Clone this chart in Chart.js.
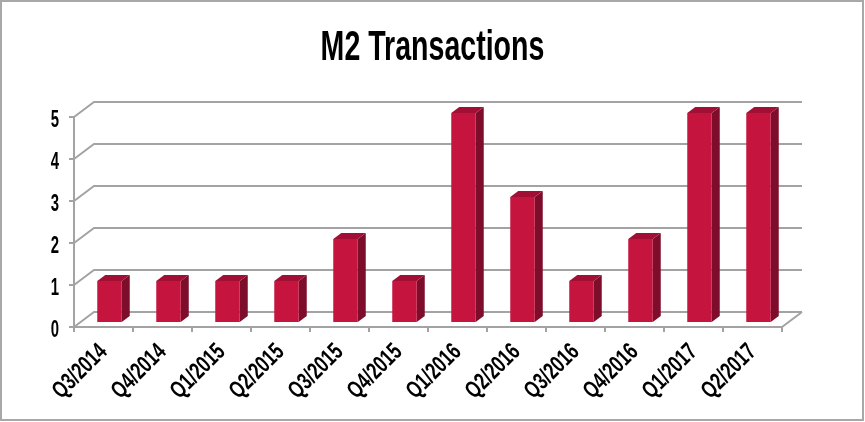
<!DOCTYPE html>
<html>
<head>
<meta charset="utf-8">
<style>
html,body{margin:0;padding:0;background:#fff}
canvas{display:block}
</style>
<script src="https://cdn.jsdelivr.net/npm/chart.js@4"></script>
</head>
<body>
<canvas id="c" width="865" height="422"></canvas>
<script>
const quarters = ['Q3/2014','Q4/2014','Q1/2015','Q2/2015','Q3/2015','Q4/2015','Q1/2016','Q2/2016','Q3/2016','Q4/2016','Q1/2017','Q2/2017'];
const transactions = [1,1,1,1,2,1,5,3,1,2,5,5];
const yTicks = [0,1,2,3,4,5];

const FONT = '"Liberation Sans",sans-serif';
const GRID = '#a3a3a3';
// depth of the fake 3d box
const WALL_X = 20, WALL_Y = 15;
const BAR_SHIFT_X = 6, BAR_SHIFT_Y = -4, BAR_DX = 8, BAR_DY = 6;

const canvas = document.getElementById('c');
const c2d = canvas.getContext('2d');
// no condensed face is installed, so squeeze the text horizontally round its anchor
const plainFillText = c2d.fillText;
c2d.fillText = function(t,x,y){
  const s = String(t);
  const squeeze = s.includes('/') ? 0.72 : (s.length>1 ? 0.68 : 0.62);
  this.save();
  this.translate(x,y);
  this.scale(squeeze,1);
  plainFillText.call(this,t,0,0);
  this.restore();
};

const fake3d = {
  id:'fake3d',
  beforeDatasetsDraw(chart){
    const {ctx,chartArea:a,scales:{y}} = chart;
    ctx.save();
    ctx.strokeStyle = GRID; ctx.lineWidth = 2;
    yTicks.forEach(v=>{
      const py = y.getPixelForValue(v);
      ctx.beginPath();
      ctx.moveTo(a.left,py);
      ctx.lineTo(a.left+WALL_X,py-WALL_Y);
      ctx.lineTo(a.right+WALL_X,py-WALL_Y);
      ctx.stroke();
    });
    // right edge of the floor
    const y0 = y.getPixelForValue(0);
    ctx.beginPath();
    ctx.moveTo(a.right,y0);
    ctx.lineTo(a.right+WALL_X,y0-WALL_Y);
    ctx.stroke();
    ctx.restore();
  },
  beforeDatasetDraw(chart){
    const ctx = chart.ctx;
    ctx.save();
    ctx.translate(BAR_SHIFT_X,BAR_SHIFT_Y);
    chart.getDatasetMeta(0).data.forEach(bar=>{
      const l = bar.x-bar.width/2, r = bar.x+bar.width/2;
      // side
      ctx.fillStyle = '#7e0c2b';
      ctx.beginPath();
      ctx.moveTo(r,bar.base);ctx.lineTo(r+BAR_DX,bar.base-BAR_DY);
      ctx.lineTo(r+BAR_DX,bar.y-BAR_DY);ctx.lineTo(r,bar.y);
      ctx.closePath();ctx.fill();
      // top
      ctx.fillStyle = '#a11034';
      ctx.beginPath();
      ctx.moveTo(l,bar.y);ctx.lineTo(l+BAR_DX,bar.y-BAR_DY);
      ctx.lineTo(r+BAR_DX,bar.y-BAR_DY);ctx.lineTo(r,bar.y);
      ctx.closePath();ctx.fill();
    });
  },
  afterDatasetDraw(chart){ chart.ctx.restore(); },
  afterDraw(chart){
    const ctx = chart.ctx;
    ctx.save();
    ctx.strokeStyle = '#a8a8a8'; ctx.lineWidth = 2;
    ctx.strokeRect(1,1,chart.width-3,chart.height-3);
    ctx.restore();
  }
};

new Chart(canvas,{
  type:'bar',
  data:{labels:quarters,datasets:[{
    data:transactions,
    yAxisID:'y',
    backgroundColor:'#c5153f',
    categoryPercentage:1,
    barPercentage:0.415,
    clip:false
  }]},
  plugins:[fake3d],
  options:{
    responsive:false,
    animation:false,
    devicePixelRatio:1,
    layout:{padding:0},
    plugins:{
      legend:{display:false},
      tooltip:{enabled:false},
      title:{
        display:true,
        text:'M2 Transactions',
        color:'#000',
        font:{family:FONT,size:42,weight:'bold'},
        padding:{top:23,bottom:43.6}
      }
    },
    scales:{
      x:{
        grid:{drawOnChartArea:false,drawTicks:true,tickLength:5,color:GRID,lineWidth:2},
        border:{color:GRID,width:2},
        ticks:{color:'#000',font:{family:FONT,size:24,weight:'bold'},minRotation:45,maxRotation:45,autoSkip:false,padding:6},
        afterFit(s){s.height=95}
      },
      y:{
        min:0,max:5,
        grid:{drawOnChartArea:false,drawTicks:true,tickLength:5,color:GRID,lineWidth:2},
        border:{color:GRID,width:2},
        ticks:{color:'#000',font:{family:FONT,size:24,weight:'bold'},stepSize:1,padding:10,labelOffset:3},
        afterFit(s){s.width=74}
      },
      // empty right axis only keeps room for the wall depth
      r:{
        position:'right',
        grid:{display:false},
        border:{display:false},
        ticks:{display:false},
        afterFit(s){s.width=83}
      }
    }
  }
});
</script>
</body>
</html>
